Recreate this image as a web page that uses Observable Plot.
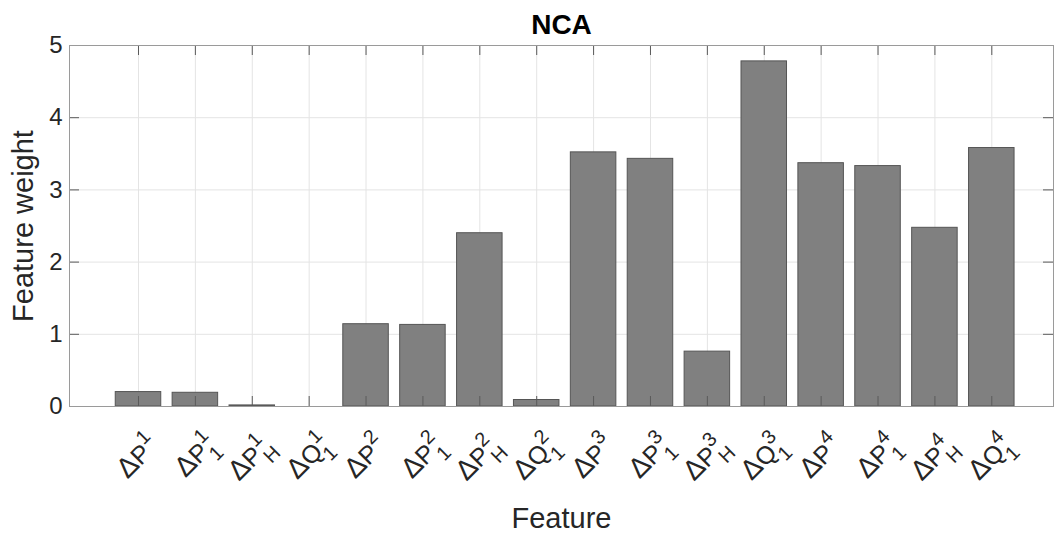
<!DOCTYPE html>
<html>
<head>
<meta charset="utf-8">
<script src="https://cdn.jsdelivr.net/npm/d3@7"></script>
<script src="https://cdn.jsdelivr.net/npm/@observablehq/plot@0.6"></script>
<style>
  html, body { margin: 0; padding: 0; background: #fff; }
  #chart svg { display: block; }
</style>
</head>
<body>
<div id="chart"></div>
<script>
// ---- data ----
const features = ["ΔP^1","ΔP^1_1","ΔP^1_H","ΔQ^1_1","ΔP^2","ΔP^2_1","ΔP^2_H","ΔQ^2_1",
                  "ΔP^3","ΔP^3_1","ΔP^3_H","ΔQ^3_1","ΔP^4","ΔP^4_1","ΔP^4_H","ΔQ^4_1"];
const weights  = [0.20, 0.19, 0.015, 0, 1.14, 1.13, 2.40, 0.09,
                  3.52, 3.43, 0.76, 4.78, 3.37, 3.33, 2.475, 3.58];
const positions = features.map((_, i) => i + 1);
const yTicks = [0, 1, 2, 3, 4, 5];
const titleText = "NCA";
const xLabel = "Feature";
const yLabel = "Feature weight";

const data = features.map((f, i) => ({pos: positions[i], feature: f, weight: weights[i]}));

// ---- layout ----
const W = 1054, H = 533;
const mL = 69, mR = 1, mT = 45, mB = 127;
const xDomain = [-0.2129, 17.0846];
const yDomain = [0, 5];
const tickPx = 10;
const xUnit = (xDomain[1] - xDomain[0]) / (W - mL - mR);
const yUnit = (yDomain[1] - yDomain[0]) / (H - mT - mB);
const F = 24, FX = 25, S = 20;
const textColor = "#262626";

const svg = Plot.plot({
  width: W, height: H,
  marginLeft: mL, marginRight: mR, marginTop: mT, marginBottom: mB,
  style: {fontFamily: "'Liberation Sans', Arial, Helvetica, sans-serif", background: "#fff", color: textColor},
  x: {type: "linear", domain: xDomain, axis: null},
  y: {domain: yDomain, axis: null},
  marks: [
    Plot.gridX(positions, {stroke: "#e4e4e4", strokeOpacity: 1}),
    Plot.gridY(yTicks, {stroke: "#e4e4e4", strokeOpacity: 1}),
    Plot.rectY(data, {x1: d => d.pos - 0.4, x2: d => d.pos + 0.4, y: "weight",
                      fill: "#808080", stroke: "#555", strokeWidth: 1}),
    // inward tick marks on all four sides
    Plot.ruleX(positions, {y1: yDomain[0], y2: yDomain[0] + tickPx * yUnit, stroke: "#5a5a5a"}),
    Plot.ruleX(positions, {y1: yDomain[1], y2: yDomain[1] - tickPx * yUnit, stroke: "#5a5a5a"}),
    Plot.ruleY(yTicks, {x1: xDomain[0], x2: xDomain[0] + tickPx * xUnit, stroke: "#5a5a5a"}),
    Plot.ruleY(yTicks, {x1: xDomain[1], x2: xDomain[1] - tickPx * xUnit, stroke: "#5a5a5a"}),
    Plot.frame({stroke: "#9a9a9a"}),
    // y tick labels
    Plot.axisY(yTicks, {tickSize: 0, tickPadding: 7, fontSize: F, label: null, fill: textColor,
                        tickFormat: d => String(d)}),
    // x tick labels (rotated)
    Plot.text(data, {x: "pos", y: yDomain[0], text: "feature", rotate: -45, textAnchor: "end",
                     lineAnchor: "bottom", dx: 22, dy: 40, fontSize: FX, fill: textColor}),
    // axis labels and title
    Plot.text([xLabel], {frameAnchor: "bottom", textAnchor: "middle", lineAnchor: "bottom",
                         dy: 121, fontSize: 29, fill: textColor}),
    Plot.text([yLabel], {frameAnchor: "left", textAnchor: "middle", lineAnchor: "middle",
                         dx: -46, rotate: -90, fontSize: 29, fill: textColor}),
    Plot.text([titleText], {frameAnchor: "top", textAnchor: "middle", lineAnchor: "bottom",
                            dy: -12, fontSize: 28, fontWeight: "bold", fill: "#000"})
  ]
});

// rich-text tick labels: base with stacked superscript / subscript
const NS = "http://www.w3.org/2000/svg";
svg.querySelectorAll("text").forEach(t => {
  const m = t.textContent.match(/^(Δ)(.)\^(.)(?:_(.))?$/);
  if (!m) return;
  while (t.firstChild) t.removeChild(t.firstChild);
  const add = (txt, attrs) => {
    const ts = document.createElementNS(NS, "tspan");
    ts.textContent = txt;
    for (const k in attrs) ts.setAttribute(k, attrs[k]);
    t.appendChild(ts);
  };
  add(m[1], {"font-size": 28, "font-weight": 300});
  add(m[2], {});
  add(m[3], {"font-size": S, dy: -0.5 * FX});
  if (m[4]) add(m[4], {"font-size": S, dx: -0.556 * S, dy: 0.5 * FX + 0.42 * FX});
});

document.getElementById("chart").appendChild(svg);
</script>
</body>
</html>
